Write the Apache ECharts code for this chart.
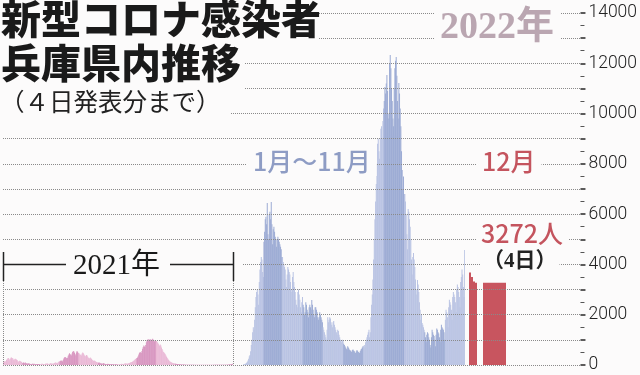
<!DOCTYPE html>
<html><head><meta charset="utf-8">
<script src="https://cdn.jsdelivr.net/npm/echarts@6/dist/echarts.min.js"></script>
<style>html,body{margin:0;padding:0;background:#fcfbfb;}#c{width:640px;height:375px;}</style>
</head><body><div id="c"></div>
<script>
// ---- data (daily new cases, Hyogo) ----
const monthDays2021 = [31,28,31,30,31,30,31,31,30,31,30,31];
const monthDays2022 = [31,28,31,30,31,30,31,31,30,31,30];
const cases2021 = [
 120,150,140,110,160,200,230,260,280,250,190,240,290,300,280,270,220,170,230,250,240,210,200,150,110,160,170,150,140,120,90,
 80,100,90,70,100,80,60,50,70,60,55,50,40,35,30,45,50,40,45,35,30,25,40,35,30,35,30,25,
 20,40,45,50,40,35,30,25,50,60,50,55,45,40,35,60,70,60,55,50,45,60,80,90,100,90,80,70,110,130,140,
 150,170,180,160,140,200,260,300,320,310,280,250,290,370,420,470,440,400,380,460,520,560,540,490,430,380,500,560,520,480,
 480,430,400,420,380,460,500,470,420,380,340,370,400,380,330,290,250,270,300,280,240,210,190,160,180,170,150,130,120,110,90,
 90,100,85,70,60,55,50,60,65,55,45,40,35,30,40,45,40,35,30,25,30,35,30,25,25,20,20,25,30,25,
 30,25,20,20,25,30,40,45,40,35,30,45,55,60,55,50,45,60,70,80,90,100,110,120,130,150,170,190,220,240,260,
 280,300,350,420,480,520,500,480,560,650,720,780,740,720,800,900,980,1000,1020,1000,980,1030,990,960,1010,1040,1000,960,930,980,950,
 950,920,880,850,800,760,820,780,700,640,580,520,500,470,430,380,330,290,250,210,180,150,130,110,95,85,75,65,60,55,
 50,45,40,38,35,32,30,28,25,22,20,18,18,16,15,15,14,13,12,12,11,10,10,9,9,9,8,8,8,7,7,
 8,8,9,10,10,9,8,7,8,9,10,9,8,7,8,9,8,7,6,7,8,9,8,7,6,7,8,8,9,10,
 8,9,10,9,8,7,9,10,11,10,9,8,10,12,11,10,9,12,14,13,12,11,12,15,18,16,20,25,30,40,45
];
const cases2022 = [
 20,25,35,45,60,90,130,180,250,350,400,550,800,1000,1300,1500,1400,1800,2300,2700,2900,3000,2800,2400,3300,3800,4100,4300,4200,3700,3500,
 4900,5300,5800,5900,5600,6440,5200,5000,6000,6100,5800,6480,5600,4800,5400,5500,5300,5100,5000,4700,5000,5100,5000,4900,4800,4700,4600,4300,
 4300,4100,4000,3900,3800,3400,3100,3600,3900,3800,3700,3600,3300,3000,2900,3500,3700,3300,3100,2900,2600,2400,2300,2900,3000,2800,2600,2300,2100,2500,2700,
 2400,2300,2000,2100,2500,2400,2200,2100,1900,2300,2400,2300,2200,2590,2400,2200,2000,1900,2300,2300,2200,2100,1900,1800,1900,2100,2000,1900,1800,1700,
 1500,1400,1300,1200,1100,1000,1400,1900,1700,1800,1900,1850,1700,1600,1500,1700,1750,1600,1500,1400,1300,1200,1400,1350,1200,1100,1000,950,900,1000,950,
 850,800,750,700,650,600,750,700,650,600,580,550,520,600,620,580,550,500,480,550,600,560,520,500,480,560,620,650,700,750,
 750,800,700,900,1000,1100,1200,1300,1400,1100,1300,1900,2400,2800,3400,4200,5000,5800,6500,7200,8000,8800,9000,8500,8200,9000,9400,9500,9000,9700,10200,
 10500,11060,10800,11200,11530,10900,9800,10000,12000,12330,11800,11000,10500,9800,9500,11000,11800,12100,12250,11500,10500,9800,11220,10800,10200,9500,8500,7760,7000,7500,6800,
 6800,6500,6000,5200,4600,6200,6100,5800,5500,5000,4200,3600,4300,4450,4200,3900,3400,3000,2800,3380,3200,2900,2500,2200,1800,2000,1670,1600,1500,1400,
 1300,1100,900,1200,1300,1250,1100,1000,800,700,1100,1400,1300,1200,1150,1000,750,1200,1450,1400,1300,1250,1100,900,1400,1600,1500,1450,1400,1300,1000,
 1800,2200,2100,1900,1500,2300,2600,2500,2400,2200,1800,2700,2900,2800,2700,2500,2100,3000,3200,3100,2900,2700,2300,3300,3500,3800,3600,3100,2700,4575
];
const decLabels = ['12/1','12/2','12/3','12/4'];
const casesDec = [3680,3500,3320,3272];
const highlightLabel = ['12/4'];
const highlightValue = [3272];
const yMin = 0, yMax = 14000, yStep = 1000, yLabelStep = 2000;

// ---- styling ----
const BG = '#fcfbfb';
const PINK = ['#eab9d6','#d896c0'];
const BLUE = ['#b9c3e3','#9cabd4'];
const RED = '#c8555f';

function buildDays(year, monthDays, values, pal){
  const cats=[], items=[]; let k=0;
  monthDays.forEach((n,m)=>{ for(let d=1; d<=n; d++){ cats.push(year+'/'+(m+1)+'/'+d); items.push({value: values[k++], itemStyle:{color: pal[m%2]}}); } });
  return {cats, items};
}
const d21 = buildDays(2021, monthDays2021, cases2021, PINK);
const d22 = buildDays(2022, monthDays2022, cases2022, BLUE);

const TOP = 13, BOTTOM = 10;
const hiddenY = i => ({gridIndex:i, type:'value', min:yMin, max:yMax, show:false});
const hiddenX = (i,data) => ({gridIndex:i, type:'category', data, show:false});
const barS = (i,data,extra) => Object.assign({type:'bar', xAxisIndex:i, yAxisIndex:i, data, barCategoryGap:'0%', barGap:'0%', silent:true, animation:false}, extra||{});

const chart = echarts.init(document.getElementById('c'));
const serifFont = '"Liberation Serif","DejaVu Serif","Noto Sans CJK JP"';
const jpFont = '"Noto Sans CJK JP"';
chart.setOption({
  backgroundColor: BG,
  animation:false,
  grid:[
    {left:3, width:230, top:TOP, bottom:BOTTOM},
    {left:243, width:222, top:TOP, bottom:BOTTOM},
    {left:469, width:8, top:TOP, bottom:BOTTOM},
    {left:483, width:23, top:TOP, bottom:BOTTOM},
    {left:3, right:57, top:TOP, bottom:BOTTOM}
  ],
  xAxis:[
    hiddenX(0,d21.cats), hiddenX(1,d22.cats), hiddenX(2,decLabels), hiddenX(3,highlightLabel),
    {gridIndex:4, type:'category', data:['a','b'], show:false}
  ],
  yAxis:[
    hiddenY(0), hiddenY(1), hiddenY(2), hiddenY(3),
    {gridIndex:4, type:'value', position:'right', min:yMin, max:yMax, interval:yStep, z:5,
     axisLine:{show:false, onZero:false},
     axisTick:{show:true, length:5, lineStyle:{color:'#333', width:1.6}},
     minorTick:{show:true, splitNumber:2, length:4, lineStyle:{color:'#555', width:1}},
     axisLabel:{margin:8, color:'#222', fontSize:17.5, fontWeight:300, fontFamily:'Roboto',
       formatter: v => (v % yLabelStep === 0 ? String(v) : '')},
     splitLine:{show:true, lineStyle:{color:'#8a8a8a', type:'dotted', width:1}}}
  ],
  series:[
    barS(0, d21.items),
    barS(1, d22.items),
    barS(2, casesDec, {itemStyle:{color:RED}}),
    barS(3, highlightValue, {itemStyle:{color:RED}})
  ],
  graphic:[
    {type:'rect', shape:{x:0,y:0,width:318,height:47}, style:{fill:BG}, z:50},
    {type:'rect', shape:{x:0,y:47,width:244,height:45}, style:{fill:BG}, z:50},
    {type:'rect', shape:{x:0,y:92,width:230,height:33}, style:{fill:BG}, z:50},
    {type:'rect', shape:{x:0,y:255,width:243,height:24}, style:{fill:BG}, z:50},
    {type:'text', x:1, y:-1, z:60, style:{text:'新型コロナ感染者', font:'900 40px '+jpFont, fill:'#1a1a1a'}},
    {type:'text', x:1, y:43, z:60, style:{text:'兵庫県内推移', font:'900 40px '+jpFont, fill:'#1a1a1a'}},
    {type:'text', x:0, y:89, z:60, style:{text:'（４日発表分まで）', font:'400 24.5px '+jpFont, fill:'#222'}},
    {type:'text', x:434, y:7, z:60, style:{text:'2022年', font:'bold 38px '+serifFont, fill:'#baa6b1', backgroundColor:BG, padding:[2,6]}},
    {type:'text', x:247, y:147, z:60, style:{text:'1月～11月', font:'500 25px '+jpFont, fill:'#8e9cc4', backgroundColor:BG, padding:[2,6]}},
    {type:'text', x:476, y:147, z:60, style:{text:'12月', font:'500 25px '+jpFont, fill:'#c4545e', backgroundColor:BG, padding:[2,6]}},
    {type:'text', x:476, y:219, z:60, style:{text:'3272人', font:'500 25px '+jpFont, fill:'#c4545e', backgroundColor:BG, padding:[2,5]}},
    {type:'text', x:480, y:250, z:60, style:{text:'（4日）', font:'bold 21px '+serifFont, fill:'#222', backgroundColor:BG, padding:[1,3]}},
    {type:'text', x:73, y:252, z:60, style:{text:'2021年', font:'29px '+serifFont, fill:'#1a1a1a'}},
    {type:'line', z:60, shape:{x1:3.5,y1:252,x2:3.5,y2:281}, style:{stroke:'#222', lineWidth:1.5}},
    {type:'line', z:60, shape:{x1:233.5,y1:252,x2:233.5,y2:281}, style:{stroke:'#222', lineWidth:1.5}},
    {type:'line', z:60, shape:{x1:3,y1:264.5,x2:66,y2:264.5}, style:{stroke:'#222', lineWidth:1.5}},
    {type:'line', z:60, shape:{x1:170,y1:264.5,x2:233,y2:264.5}, style:{stroke:'#222', lineWidth:1.5}},
    {type:'line', z:60, shape:{x1:3.5,y1:281,x2:3.5,y2:365}, style:{stroke:'#8a8a8a', lineWidth:1, lineDash:[1,1]}},
    {type:'line', z:60, shape:{x1:233.5,y1:281,x2:233.5,y2:365}, style:{stroke:'#8a8a8a', lineWidth:1, lineDash:[1,1]}}
  ]
});
</script></body></html>
